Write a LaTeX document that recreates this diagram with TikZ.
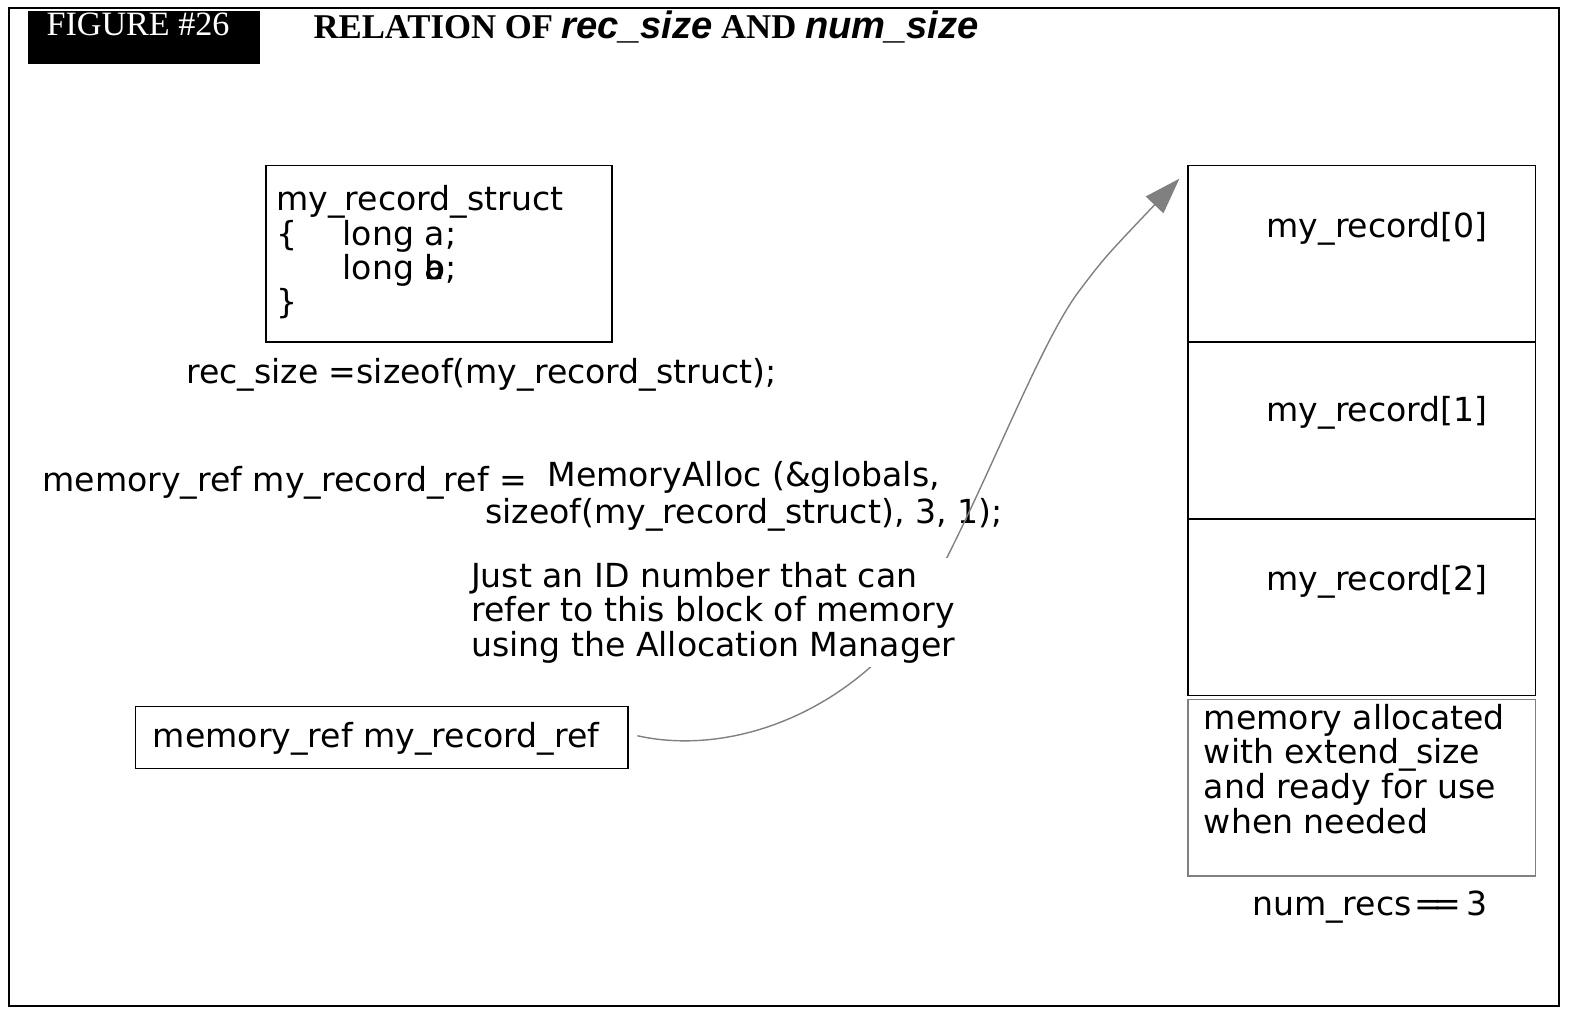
\documentclass[tikz,border=0pt]{standalone}
\usepackage{fontspec}
\setmainfont{DejaVu Sans}
\newfontfamily\headserif{Liberation Serif}
\newfontfamily\headsans{Liberation Sans}
\usetikzlibrary{arrows.meta,positioning}

\begin{document}
\begin{tikzpicture}[x=0.5pt,y=-0.5pt,
  txt/.style={anchor=base west,inner sep=0pt,align=left,
    font=\fontsize{16.5}{17.25}\selectfont},
  cell/.style={draw,line width=0.8pt,anchor=north west,inner sep=0pt,
    minimum width=173pt,minimum height=88pt},
  conn/.style={draw=gray,line width=0.7pt,
    -{Triangle[length=18pt,width=12pt,fill=gray]}}]
  \useasboundingbox (0,0) rectangle (1569.1,1021.2);
  \draw[line width=0.8pt] (9,8) rectangle (1553,1002);

  % header
  \node[fill=black,anchor=north west,inner sep=0pt,
    minimum width=116pt,minimum height=26pt] (figbox) at (27,11) {};
  \node[anchor=base west,inner sep=0pt,text=white,
    font=\headserif\fontsize{17}{17}\selectfont] (fignum) at (46,35) {FIGURE \#26};
  \node[anchor=base west,inner sep=0pt,
    font=\headserif\bfseries\fontsize{17.3}{17.3}\selectfont] (title) at (312,38)
    {RELATION OF {\headsans\itshape\fontsize{19}{19}\selectfont rec\_size} AND
     {\headsans\itshape\fontsize{19}{19}\selectfont num\_size}};

  % struct
  \node[cell,minimum width=172.5pt] (struct) at (264,164) {};
  \node[txt] (sname) at (275,210) {my\_record\_struct};
  \node[txt] (sopen) at (275,245) {\{};
  \node[txt] (sa) at (341,245) {long a;};
  \node[txt] (sb) at (341,278) {long \rlap{b}a;};
  \node[txt] (sclose) at (275,312) {\}};
  \node[txt] (recsize) at (185,382) {rec\_size =sizeof(my\_record\_struct);};

  \node[txt] (alloc) at (42,490) {memory\_ref my\_record\_ref =};
  \node[txt] (call) at (545,485) {MemoryAlloc (\&globals,};
  \node[txt] (args) at (483,522) {sizeof(my\_record\_struct), 3, 1);};

  % records
  \foreach \i/\ly in {0/228,1/411,2/580}
  {
    \node[cell] (rec\i) at (1183,{164+176*\i}) {};
    \node[txt,anchor=center] (lab\i) at (1372,\ly) {my\_record[\i]};
  }
  \node[cell,draw=gray] (spare) at (1183,696) {};
  \node[txt] (sparetxt) at (1199,830)
    {memory allocated\\with extend\_size\\and ready for use\\when needed};
  \node[txt] (numrecs) at (1247,912) {num\_recs\kern0.1em=\kern-0.28em=\kern0.15em3};

  % reference
  \node[draw,line width=0.8pt,anchor=north west,inner sep=0pt,
    minimum width=245.5pt,minimum height=31pt] (refbox) at (134,703) {};
  \node[txt] (reftxt) at (152,745) {memory\_ref my\_record\_ref};
  \coordinate (start) at (635,733);
  \coordinate (tip) at (1175,178);
  \draw[conn] (start) .. controls (720,752) and (830,718) .. (905,625)
    .. controls (970,520) and (1030,350) .. (1075,290)
    .. controls (1100,257) .. (tip);
  \node[txt,fill=white,inner sep=2pt] (note) at (465,654)
    {Just an ID number that can\\refer to this block of memory\\using the Allocation Manager};
\end{tikzpicture}
\end{document}
